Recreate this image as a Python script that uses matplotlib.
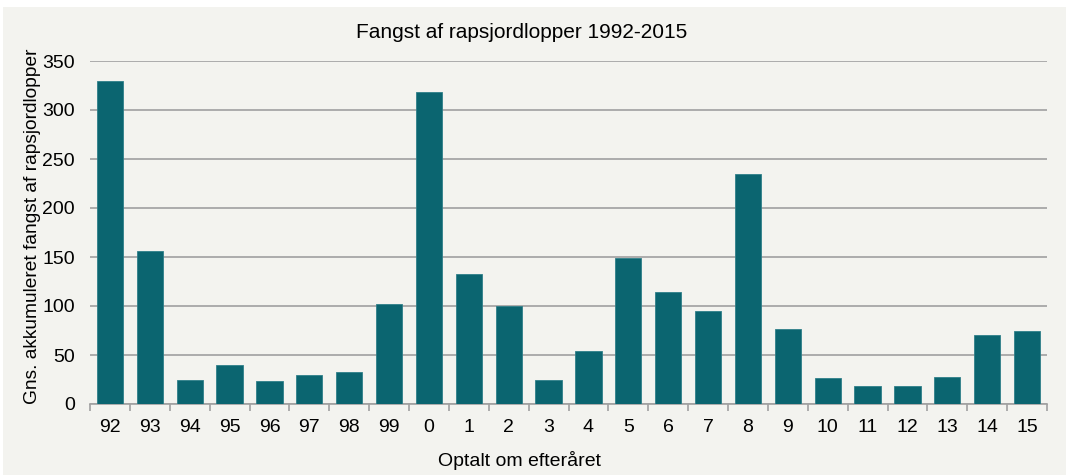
import matplotlib
matplotlib.use('Agg')
import matplotlib.pyplot as plt
from matplotlib.patches import Rectangle
import numpy as np

plt.rcParams['font.family'] = ['Liberation Sans', 'DejaVu Sans']

years = ['92', '93', '94', '95', '96', '97', '98', '99', '0', '1', '2', '3',
         '4', '5', '6', '7', '8', '9', '10', '11', '12', '13', '14', '15']
catch = [330, 156, 24.5, 40, 23.5, 30, 33, 102, 318, 133, 99.5, 24.5,
         54, 149, 114, 95, 235, 77, 27, 18.5, 18.5, 28, 70, 74.5]

bar_color = '#0b6570'
panel_bg = '#f3f3ef'
grid_color = '#a0a0a0'

fig = plt.figure(figsize=(10.66, 4.75), dpi=100)
fig.patch.set_facecolor('white')
fig.patches.append(Rectangle((3 / 1066, 0), 1, 1 - 7 / 475, transform=fig.transFigure,
                             facecolor=panel_bg, edgecolor='none', zorder=-10))

ax = fig.add_axes([90 / 1066, 1 - 404 / 475, (1047 - 90) / 1066, (404 - 61) / 475])
ax.set_facecolor(panel_bg)

x = np.arange(len(years))
ax.bar(x, catch, width=0.66, color=bar_color, edgecolor='#2f7f89', linewidth=0.6, zorder=3)

ax.set_xlim(-0.5, len(years) - 0.5)
ax.set_ylim(0, 350)
ax.set_yticks(np.arange(0, 351, 50))
ax.yaxis.grid(True, color=grid_color, linewidth=1.2, zorder=0)
ax.set_axisbelow(True)

ax.set_xticks(x)
ax.set_xticklabels(years, fontsize=14)
ax.set_xticks(np.arange(-0.5, len(years), 1), minor=True)
ax.tick_params(axis='x', which='major', length=0, pad=11)
ax.tick_params(axis='x', which='minor', length=5, color=grid_color, width=1.2)
ax.tick_params(axis='y', length=0, labelsize=14, pad=11)

for s in ['top', 'right', 'left']:
    ax.spines[s].set_visible(False)
ax.spines['bottom'].set_color(grid_color)
ax.spines['bottom'].set_linewidth(1.2)

fig.text(522 / 1066, 1 - 33 / 475, 'Fangst af rapsjordlopper 1992-2015',
         ha='center', va='center', fontsize=15)
fig.text(519 / 1066, 1 - 461 / 475, 'Optalt om efteråret',
         ha='center', va='center', fontsize=14)
fig.text(33 / 1066, 1 - 226 / 475, 'Gns. akkumuleret fangst af rapsjordlopper',
         ha='center', va='center', rotation=90, fontsize=13.8)

fig.savefig('out.png', dpi=100, facecolor=fig.get_facecolor())
